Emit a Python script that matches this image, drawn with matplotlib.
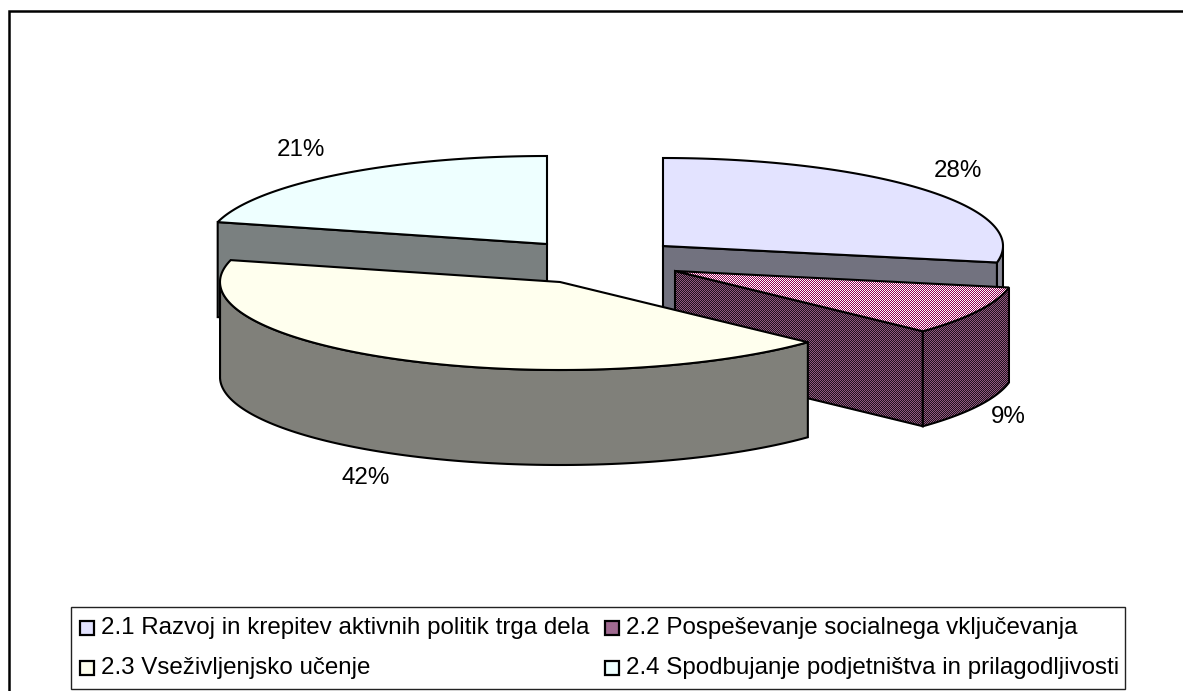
# Exploded 3D-look pie, drawn by hand because matplotlib has no 3D pie

import numpy as np
import matplotlib
matplotlib.use('Agg')
import matplotlib.pyplot as plt
from matplotlib.colors import to_rgb
from matplotlib.patches import Polygon, Rectangle

plt.rcParams['font.family'] = ['Liberation Sans', 'DejaVu Sans']

labels = ['2.1 Razvoj in krepitev aktivnih politik trga dela',
          '2.2 Pospeševanje socialnega vključevanja',
          '2.3 Vseživljenjsko učenje',
          '2.4 Spodbujanje podjetništva in prilagodljivosti']
shares = [28, 9, 42, 21]
pct_labels = ['28%', '9%', '42%', '21%']

top_colors = ['#e3e3ff', '#a8a8a8', '#ffffee', '#eeffff']
cut_colors = ['#72727f', '#555555', '#80807a', '#7a8080']
rim_colors = ['#8a8a98', '#555555', '#80807a', '#7a8080']

# pie geometry in pixels
rx, ry, depth = 340, 88, 95
centers = [(663, 246), (675, 271), (560, 282), (547, 244)]
label_pos = [(958, 171), (1008, 417), (366, 478), (301, 150)]

fig = plt.figure(figsize=(11.83, 6.91), dpi=100)
ax = fig.add_axes([0, 0, 1, 1])
ax.set_xlim(0, 1183)
ax.set_ylim(691, 0)
ax.axis('off')

# outer frame runs off the right and bottom of the picture
ax.add_patch(Rectangle((9, 11), 1300, 800, fc='white', ec='black', lw=1.8, zorder=1))

# cumulative angles, clockwise from 12 o'clock
edges = np.cumsum([0] + shares) / sum(shares) * 2 * np.pi
z = [2]


def rim(c, a0, a1):
    t = np.linspace(a0, a1, 120)
    return np.column_stack([c[0] + rx * np.sin(t), c[1] - ry * np.cos(t)]), t


def face(pts, fc):
    z[0] += 1
    ax.add_patch(Polygon(pts, closed=True, fc=fc, ec='black', lw=1.5, zorder=z[0]))


def dither(pts, c0, c1):
    # two colour checker fill, same as the stipple in the original
    z[0] += 2
    yy, xx = np.mgrid[0:691, 0:1183]
    mask = ((xx + yy) % 2 == 0)[..., None]
    img = np.where(mask, np.array(to_rgb(c1)), np.array(to_rgb(c0)))
    poly = Polygon(pts, closed=True, fc='none', ec='black', lw=1.5, zorder=z[0])
    ax.add_patch(poly)
    im = ax.imshow(img, extent=(0, 1183, 691, 0), interpolation='nearest',
                   zorder=z[0] - 1, aspect='auto')
    im.set_clip_path(poly)


down = np.array([0, depth])

for i in [3, 0, 1, 2]:
    c = np.array(centers[i], dtype=float)
    arc, t = rim(c, edges[i], edges[i + 1])
    if i == 3:
        # cut face towards the viewer
        face([c, arc[0], arc[0] + down, c + down], cut_colors[i])
    if i == 0:
        face([c, arc[-1], arc[-1] + down, c + down], cut_colors[i])
        right = arc[t > np.pi / 2]
        face(np.vstack([right, right[::-1] + down]), rim_colors[i])
    if i == 1:
        dither([c, arc[-1], arc[-1] + down, c + down], '#20101c', '#905a80')
        dither(np.vstack([arc, arc[::-1] + down]), '#20101c', '#905a80')
        dither(np.vstack([[c], arc]), '#900050', '#ffffff')
        continue
    if i == 2:
        front = arc[t < 3 * np.pi / 2]
        face(np.vstack([front, front[::-1] + down]), rim_colors[i])
    face(np.vstack([[c], arc]), top_colors[i])

z[0] += 1
for (x, y), s in zip(label_pos, pct_labels):
    ax.text(x, y, s, ha='center', va='center', fontsize=17.4, color='black', zorder=z[0])

# legend laid out by hand to keep the two-column spacing of the original
ax.add_patch(Rectangle((71, 607), 1054, 82, fc='white', ec='#222222', lw=1, zorder=z[0]))
leg_x = [80, 605, 80, 605]
leg_y = [628, 628, 668, 668]
legend_colors = ['#e3e3ff', '#a06a90', '#ffffee', '#eeffff']
for i in range(4):
    ax.add_patch(Rectangle((leg_x[i], leg_y[i] - 7), 14, 14, fc=legend_colors[i], ec='black', lw=1.6, zorder=z[0] + 1))
    ax.text(leg_x[i] + 21, leg_y[i], labels[i], va='center', ha='left', fontsize=17.4, color='black', zorder=z[0] + 1)

fig.savefig('out.png', dpi=100)
